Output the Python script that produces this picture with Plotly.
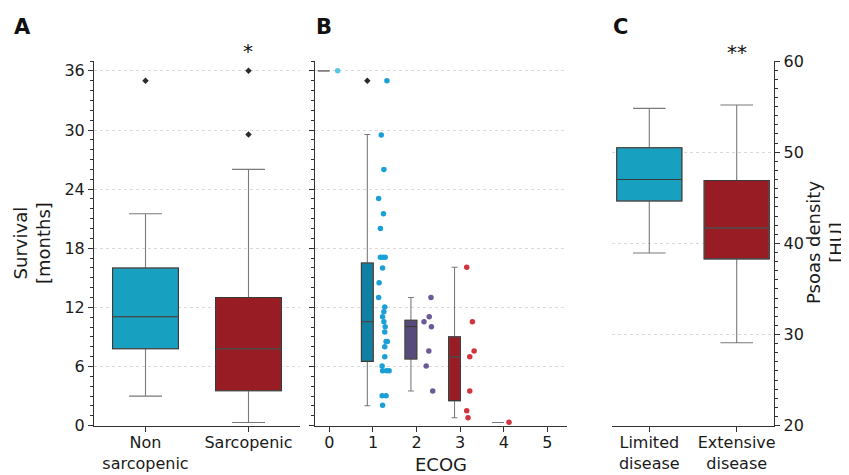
import plotly.graph_objects as go

# The page body has an 8px margin; the figure is sized to fill the rest of the window.
OFF = 8
W, H = 849 - OFF, 475 - OFF

# ---------------- Panel A: survival by sarcopenia ----------------
surv_groups = ["Non<br>sarcopenic", "Sarcopenic"]
surv_q1 = [7.8, 3.55]
surv_median = [11.05, 7.8]
surv_q3 = [16.0, 13.0]
surv_lower = [3.0, 0.33]
surv_upper = [21.5, 26.0]
surv_outlier_group = [0, 1, 1]
surv_outlier_value = [35.0, 29.55, 36.0]
surv_colors = ["#17a0c0", "#981c24"]

# ---------------- Panel B: survival by ECOG ----------------
ecog_levels = [0, 1, 2, 3, 4]
ecog_q1 = [36.0, 6.53, 6.76, 2.54, 0.33]
ecog_median = [36.0, 10.55, 10.05, 7.0, 0.33]
ecog_q3 = [36.0, 16.5, 10.7, 9.03, 0.33]
ecog_lower = [36.0, 2.03, 3.52, 0.8, 0.33]
ecog_upper = [36.0, 29.55, 13.0, 16.07, 0.33]
ecog_box_colors = ["#5bc6e3", "#0f80a2", "#574a7c", "#981c24", "#c8323c"]
ecog_pt_colors = ["#5bc6e3", "#1aa0d6", "#6b5a96", "#d1343e", "#d1343e"]
ecog_outlier_level = [1]
ecog_outlier_value = [35.0]
ecog_tick_labels = ["0", "1", "2", "3", "4", "5"]

ecog_pt_level = (
    [0]
    + [1] * 29
    + [2] * 7
    + [3] * 7
    + [4]
)
ecog_pt_value = (
    [36.0]
    + [35.0, 29.5, 26.0, 23.06, 21.5, 20.0, 17.1, 17.1, 17.1, 16.0, 14.5, 13.0,
       12.05, 11.55, 11.05, 10.55, 10.05, 9.5, 8.55, 8.55, 8.0, 7.0, 6.05,
       5.57, 5.57, 5.57, 3.04, 3.04, 2.07]
    + [13.0, 11.05, 10.55, 10.05, 7.57, 6.05, 3.52]
    + [16.07, 10.55, 7.57, 7.0, 3.52, 1.52, 0.81]
    + [0.34]
)
ecog_pt_jitter = (
    [0.19]
    + [0.32, 0.19, 0.25, 0.13, 0.24, 0.17, 0.17, 0.23, 0.28, 0.22, 0.14, 0.13,
       0.27, 0.25, 0.22, 0.25, 0.28, 0.27, 0.33, 0.30, 0.27, 0.27, 0.21,
       0.22, 0.31, 0.37, 0.21, 0.30, 0.22]
    + [0.33, 0.29, 0.17, 0.34, 0.28, 0.22, 0.37]
    + [0.15, 0.28, 0.32, 0.22, 0.22, 0.15, 0.18]
    + [0.12]
)

# ---------------- Panel C: psoas density by disease stage ----------------
dis_groups = ["Limited<br>disease", "Extensive<br>disease"]
dis_q1 = [44.64, 38.3]
dis_median = [47.0, 41.68]
dis_q3 = [50.48, 46.9]
dis_lower = [38.94, 29.1]
dis_upper = [54.8, 55.17]
dis_colors = ["#17a0c0", "#981c24"]

FONT = "DejaVu Sans"
TXT = "#1a1a1a"
AX = "#333333"
WHISK = "#7a7a7a"
EDGE = "#3a3a3a"
GRID = "#dadada"


def px_x(p):
    return (p - OFF) / W


def px_y(p):
    return 1 - (p - OFF) / H


fig = go.Figure()


def add_box(x, q1, med, q3, lo, hi, fill, width, xa, ya, edge=EDGE):
    # whiskers + caps (gray)
    fig.add_trace(go.Box(
        x=[x], q1=[q1], median=[med], q3=[q3], lowerfence=[lo], upperfence=[hi],
        width=width, whiskerwidth=0.5, fillcolor=fill,
        line=dict(color=WHISK, width=1.1), boxpoints=False,
        xaxis=xa, yaxis=ya, showlegend=False, hoverinfo="skip"))
    # box outline + median (darker)
    fig.add_trace(go.Box(
        x=[x], q1=[q1], median=[med], q3=[q3], lowerfence=[q1], upperfence=[q3],
        width=width, whiskerwidth=0.5, fillcolor="rgba(0,0,0,0)",
        line=dict(color=edge, width=1.1), boxpoints=False,
        xaxis=xa, yaxis=ya, showlegend=False, hoverinfo="skip"))


# Panel A boxes
for i in range(len(surv_groups)):
    add_box(i, surv_q1[i], surv_median[i], surv_q3[i], surv_lower[i], surv_upper[i],
            surv_colors[i], 0.64, "x", "y")
fig.add_trace(go.Scatter(
    x=surv_outlier_group, y=surv_outlier_value, mode="markers",
    marker=dict(symbol="diamond", size=5, color="#2b2b2b"),
    xaxis="x", yaxis="y", showlegend=False, hoverinfo="skip"))

# Panel B boxes
BOX_OFF = -0.13
for i, lv in enumerate(ecog_levels):
    single = ecog_q1[i] == ecog_q3[i]
    add_box(lv + BOX_OFF, ecog_q1[i], ecog_median[i], ecog_q3[i], ecog_lower[i], ecog_upper[i],
            ecog_box_colors[i], 0.27, "x2", "y2", edge=WHISK if single else EDGE)
fig.add_trace(go.Scatter(
    x=[l + BOX_OFF for l in ecog_outlier_level], y=ecog_outlier_value, mode="markers",
    marker=dict(symbol="diamond", size=5, color="#2b2b2b"),
    xaxis="x2", yaxis="y2", showlegend=False, hoverinfo="skip"))
fig.add_trace(go.Scatter(
    x=[l + j for l, j in zip(ecog_pt_level, ecog_pt_jitter)], y=ecog_pt_value,
    mode="markers",
    marker=dict(size=5.5, color=[ecog_pt_colors[l] for l in ecog_pt_level], line=dict(width=0)),
    xaxis="x2", yaxis="y2", showlegend=False, hoverinfo="skip", cliponaxis=False))

# Panel C boxes
for i in range(len(dis_groups)):
    add_box(i, dis_q1[i], dis_median[i], dis_q3[i], dis_lower[i], dis_upper[i],
            dis_colors[i], 0.745, "x3", "y3")

yd = [px_y(425.7), px_y(61)]
tickfont = dict(family=FONT, size=16, color=TXT)
common_y = dict(
    showline=True, linecolor=AX, linewidth=1, ticks="outside", ticklen=5, tickcolor=AX,
    tickwidth=1, showgrid=True, gridcolor=GRID, griddash="3px,3px", gridwidth=0.8,
    zeroline=False, tickfont=tickfont, automargin=False,
    minor=dict(dtick=1, ticks="outside", ticklen=3, tickcolor=AX, showgrid=False),
)
common_x = dict(
    showline=True, linecolor=AX, linewidth=1, ticks="outside", ticklen=5, tickcolor=AX,
    showgrid=False, zeroline=False, tickfont=tickfont, automargin=False,
    ticklabelstandoff=-3,
)

fig.update_layout(
    template="none",
    width=W, height=H, margin=dict(l=0, r=0, t=0, b=0, autoexpand=False),
    paper_bgcolor="white", plot_bgcolor="white",
    font=dict(family=FONT, color=TXT),
    boxmode="overlay", showlegend=False,
    xaxis=dict(common_x, domain=[px_x(94), px_x(300)], range=[-0.5, 1.5],
               tickvals=[0, 1], ticktext=surv_groups, anchor="y"),
    yaxis=dict(common_y, domain=yd, range=[0, 37], tickvals=[0, 6, 12, 18, 24, 30, 36],
               anchor="x"),
    xaxis2=dict(common_x, domain=[px_x(315), px_x(567)], range=[-0.33, 5.45],
                tickvals=list(range(6)), ticktext=ecog_tick_labels, anchor="y2"),
    yaxis2=dict(common_y, domain=yd, range=[0, 37], tickvals=[0, 6, 12, 18, 24, 30, 36],
                showticklabels=False, anchor="x2"),
    xaxis3=dict(common_x, domain=[px_x(611.7), px_x(774.3)], range=[-0.43, 1.43],
                tickvals=[0, 1], ticktext=dis_groups, anchor="y3"),
    yaxis3=dict(common_y, domain=yd, range=[20, 60], tickvals=[20, 30, 40, 50, 60],
                side="right", anchor="x3"),
)

ann = []
for lab, x in [("A", 12), ("B", 314), ("C", 611)]:
    ann.append(dict(text="<b>%s</b>" % lab, x=px_x(x), y=px_y(27), xref="paper", yref="paper",
                    xanchor="left", yanchor="middle", showarrow=False,
                    font=dict(family=FONT, size=21, color="#111")))
ann.append(dict(text="Survival<br>[months]", textangle=-90, x=px_x(32), y=px_y(243),
                xref="paper", yref="paper", xanchor="center", yanchor="middle",
                showarrow=False, font=dict(family=FONT, size=18, color=TXT)))
ann.append(dict(text="Psoas density<br>[HU]", textangle=-90, x=px_x(825), y=px_y(243),
                xref="paper", yref="paper", xanchor="center", yanchor="middle",
                showarrow=False, font=dict(family=FONT, size=18, color=TXT)))
ann.append(dict(text="ECOG", x=px_x(441), y=px_y(464), xref="paper", yref="paper",
                xanchor="center", yanchor="middle", showarrow=False,
                font=dict(family=FONT, size=18, color=TXT)))
ann.append(dict(text="*", x=px_x(248), y=px_y(51), xref="paper", yref="paper",
                xanchor="center", yanchor="middle", showarrow=False,
                font=dict(family=FONT, size=20, color="#111")))
ann.append(dict(text="**", x=px_x(736.7), y=px_y(52), xref="paper", yref="paper",
                xanchor="center", yanchor="middle", showarrow=False,
                font=dict(family=FONT, size=20, color="#111")))
fig.update_layout(annotations=ann)

fig.write_html("out.html")
